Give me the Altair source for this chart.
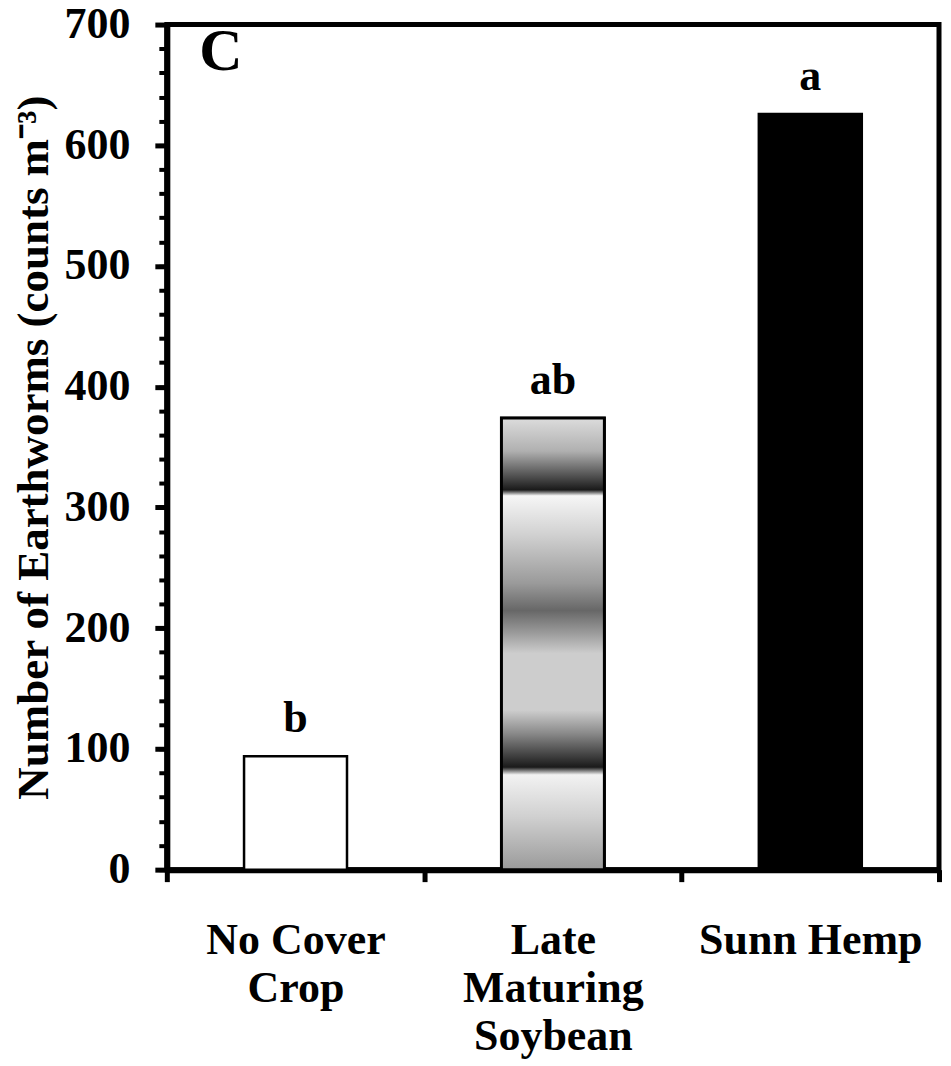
import altair as alt
import pandas as pd

# ---- data ----
crops = ["No Cover Crop", "Late Maturing Soybean", "Sunn Hemp"]
earthworms = [94, 374, 626]
letters = ["b", "ab", "a"]
bar_fills = ["white", "white", "black"]
label_lines = [["No Cover", "Crop"], ["Late", "Maturing", "Soybean"], ["Sunn Hemp"]]
y_title = "Number of Earthworms (counts m\u207b\u00b3)"
panel_letter = ["C"]
major_ticks = list(range(0, 701, 100))
minor_ticks = list(range(0, 701, 20))

# gradient for the soybean bar (offset, grey)
grad_offsets = [0, 0.073, 0.132, 0.159, 0.172, 0.256, 0.366, 0.426, 0.477, 0.521, 0.647, 0.698, 0.773, 0.790, 0.883, 1]
grad_colors = ["#dcdcdc", "#b0b0b0", "#4a4a4a", "#1a1a1a", "#f6f6f6", "#d2d2d2", "#9a9a9a", "#676767",
               "#9c9c9c", "#cdcdcd", "#cdcdcd", "#8a8a8a", "#1a1a1a", "#f2f2f2", "#d0d0d0", "#9a9a9a"]

df = pd.DataFrame({"crop": crops, "count": earthworms, "letter": letters})

FONT = "Liberation Serif"
FS = 44
BAR_FRAC = 0.4

label_expr = " : ".join(
    f"datum.label == '{c}' ? {lines!r}" for c, lines in zip(crops, label_lines)
) + " : datum.label"

y_scale = alt.Scale(domain=[0, 700], nice=False)

x_enc = alt.X(
    "crop:N",
    sort=crops,
    scale=alt.Scale(paddingInner=0, paddingOuter=0),
    axis=alt.Axis(
        title=None,
        labelAngle=0,
        labelExpr=label_expr,
        labelFont=FONT,
        labelFontSize=FS,
        labelFontWeight="bold",
        labelColor="black",
        labelLineHeight=48,
        labelPadding=37,
        labelBaseline="top",
        labelLimit=0,
        tickBand="extent",
        tickSize=12,
        tickWidth=5,
        tickColor="black",
        domainColor="black",
        domainWidth=6,
    ),
)

y_enc = alt.Y(
    "count:Q",
    scale=y_scale,
    axis=alt.Axis(
        orient="left",
        title=y_title,
        titleFont=FONT,
        titleFontSize=45,
        titleFontWeight="bold",
        titleColor="black",
        titleX=-133,
        titleY=423,
        titleAngle=-90,
        titleAlign="center",
        titleBaseline="middle",
        values=major_ticks,
        labelOverlap=False,
        labelFont=FONT,
        labelFontSize=FS,
        labelFontWeight="bold",
        labelColor="black",
        labelPadding=25,
        tickSize=12,
        tickWidth=5,
        tickColor="black",
        domainColor="black",
        domainWidth=6,
        grid=False,
    ),
)

minor_axis = alt.Axis(
    orient="left",
    title=None,
    values=minor_ticks,
    labels=False,
    domain=False,
    grid=False,
    tickSize=8,
    tickWidth=4,
    tickColor="black",
)

minor = alt.Chart(df).mark_point(opacity=0).encode(
    y=alt.Y("count:Q", scale=y_scale, axis=minor_axis),
)

bars = alt.Chart(df).mark_bar(
    stroke="black", strokeWidth=2.5, width=alt.RelativeBandSize(BAR_FRAC)
).encode(
    x=x_enc,
    y=y_enc,
    fill=alt.Fill("crop:N", scale=alt.Scale(domain=crops, range=bar_fills), legend=None),
)

gradient = {
    "gradient": "linear",
    "x1": 0, "y1": 0, "x2": 0, "y2": 1,
    "stops": [{"offset": o, "color": c} for o, c in zip(grad_offsets, grad_colors)],
}

grad_bar = alt.Chart(df).transform_filter(
    alt.datum.crop == crops[1]
).mark_bar(
    fill=gradient, stroke="black", strokeWidth=3, width=alt.RelativeBandSize(BAR_FRAC)
).encode(
    x=alt.X("crop:N", sort=crops),
    y=alt.Y("count:Q", axis=None),
)

texts = alt.Chart(df).mark_text(
    font=FONT, fontSize=FS, fontWeight="bold", color="black", baseline="alphabetic", dy=-24
).encode(
    x=alt.X("crop:N", sort=crops),
    y=alt.Y("count:Q", axis=None),
    text="letter:N",
)

panel = alt.Chart(pd.DataFrame({"t": panel_letter})).mark_text(
    font=FONT, fontSize=60, fontWeight="bold", color="black", align="center", baseline="middle"
).encode(
    x=alt.value(54),
    y=alt.value(28),
    text="t:N",
)

chart = alt.layer(bars, minor, grad_bar, texts, panel).resolve_axis(
    y="independent"
).properties(
    width=773,
    height=846,
    background="white",
    autosize=alt.AutoSizeParams(type="none"),
    padding={"left": 159, "top": 16, "right": 4, "bottom": 190},
).configure_view(
    stroke="black", strokeWidth=5
)

chart.save("out.html", embed_options={"renderer": "svg", "actions": False})
